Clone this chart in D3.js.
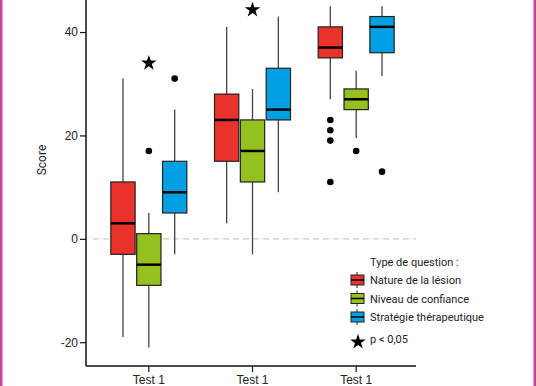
<!DOCTYPE html>
<html>
<head>
<meta charset="utf-8">
<script src="https://d3js.org/d3.v7.min.js"></script>
<style>
  body { margin: 0; background: #fff; }
  svg { display: block; font-family: Roboto, "DejaVu Sans", sans-serif; }
</style>
</head>
<body>
<div id="chart"></div>
<script>
// categories and series
var groups = ["Test 1", "Test 1 ", "Test 1  "];
var seriesNames = ["Nature de la lésion", "Niveau de confiance", "Stratégie thérapeutique"];
var colors = ["#e8322b", "#94c11f", "#00a0e2"];

// [whiskerLow, q1, median, q3, whiskerHigh] for each group, per series
var nature    = [[-19, -3, 3, 11, 31], [3, 15, 23, 28, 41], [27, 35, 37, 41, 45]];
var confiance = [[-21, -9, -5, 1, 5], [-3, 11, 17, 23, 29], [19.5, 25, 27, 29, 32.5]];
var strategie = [[-3, 5, 9, 15, 25], [9, 23, 25, 33, 43], [31.5, 36, 41, 43, 45]];

// outliers [group index, value]
var natureOut    = [[2, 23], [2, 21], [2, 19], [2, 11]];
var confianceOut = [[0, 17], [2, 17]];
var strategieOut = [[0, 31], [2, 13]];

// significance stars [group index, value] (placed over green series)
var stars = [[0, 34], [1, 44.3]];

var yTicks = [-20, 0, 20, 40];

var width = 536, height = 386;
var svg = d3.select("#chart").append("svg")
  .attr("width", width).attr("height", height);

// magenta frame edges
svg.append("rect").attr("x", 0).attr("y", 0).attr("width", 2.5).attr("height", height).attr("fill", "#c1469b");
svg.append("rect").attr("x", width - 2.5).attr("y", 0).attr("width", 2.5).attr("height", height).attr("fill", "#c1469b");

var mLeft = 86, mRight = 416, mTop = 0, mBottom = 366;

var y = d3.scaleLinear().domain([-24.6, 46.2]).range([mBottom, mTop]);
var x = d3.scaleBand().domain(groups).range([97, 408]).padding(0);
var xs = d3.scaleBand().domain([0, 1, 2]).range([-38, 38]).paddingInner(0.06);

// zero dashed line
svg.append("line")
  .attr("x1", 93).attr("x2", mRight)
  .attr("y1", y(0)).attr("y2", y(0))
  .attr("stroke", "#cccccc").attr("stroke-width", 1.2)
  .attr("stroke-dasharray", "6,4");

// axes
var yAxis = svg.append("g").attr("transform", "translate(" + mLeft + ",0)")
  .call(d3.axisLeft(y).tickValues(yTicks).tickSize(6).tickPadding(2).tickFormat(function(d) { return String(d); }));
yAxis.select(".domain").attr("d", "M0," + mTop + "V" + mBottom).attr("stroke", "#111").attr("stroke-width", 1.5);
yAxis.selectAll(".tick line").attr("stroke", "#111").attr("stroke-width", 1.2);
yAxis.selectAll(".tick text").attr("font-size", 12).attr("fill", "#222");

var xAxis = svg.append("g").attr("transform", "translate(0," + mBottom + ")")
  .call(d3.axisBottom(x).tickSize(6).tickPadding(3).tickFormat(function(d) { return d.trim(); }));
xAxis.select(".domain").attr("d", "M" + mLeft + ",0H" + mRight).attr("stroke", "#111").attr("stroke-width", 1.5);
xAxis.selectAll(".tick line").attr("stroke", "#111").attr("stroke-width", 1.2);
xAxis.selectAll(".tick text").attr("font-size", 12).attr("fill", "#222");

svg.append("text")
  .attr("transform", "translate(46," + 160 + ") rotate(-90)")
  .attr("text-anchor", "middle").attr("font-size", 12).attr("fill", "#222")
  .text("Score");

var allSeries = [nature, confiance, strategie];
var allOut = [natureOut, confianceOut, strategieOut];

function cx(g, s) { return x(groups[g]) + x.bandwidth() / 2 + xs(s) + xs.bandwidth() / 2; }

allSeries.forEach(function(series, s) {
  var bw = xs.bandwidth();
  var g = svg.append("g");
  series.forEach(function(d, gi) {
    var c = cx(gi, s);
    g.append("line").attr("x1", c).attr("x2", c).attr("y1", y(d[0])).attr("y2", y(d[4]))
      .attr("stroke", "#444").attr("stroke-width", 1.3);
    g.append("rect").attr("x", c - bw / 2).attr("width", bw)
      .attr("y", y(d[3])).attr("height", y(d[1]) - y(d[3]))
      .attr("fill", colors[s]).attr("stroke", "#222").attr("stroke-width", 1.2);
    g.append("line").attr("x1", c - bw / 2).attr("x2", c + bw / 2).attr("y1", y(d[2])).attr("y2", y(d[2]))
      .attr("stroke", "#000").attr("stroke-width", 2.5);
  });
  allOut[s].forEach(function(o) {
    g.append("circle").attr("cx", cx(o[0], s)).attr("cy", y(o[1])).attr("r", 3.3).attr("fill", "#000");
  });
});

var star = d3.symbol().type(d3.symbolStar).size(75);
stars.forEach(function(st) {
  svg.append("path").attr("d", star)
    .attr("transform", "translate(" + cx(st[0], 1) + "," + y(st[1]) + ")")
    .attr("fill", "#000");
});

// legend
var lg = svg.append("g").attr("font-size", 11).attr("fill", "#222");
lg.append("text").attr("x", 370).attr("y", 266).text("Type de question :");
seriesNames.forEach(function(name, i) {
  var cy = 280 + i * 18.5;
  lg.append("line").attr("x1", 357).attr("x2", 357).attr("y1", cy - 8).attr("y2", cy + 8)
    .attr("stroke", "#222").attr("stroke-width", 1);
  lg.append("rect").attr("x", 351).attr("y", cy - 5).attr("width", 13).attr("height", 10)
    .attr("fill", colors[i]).attr("stroke", "#222").attr("stroke-width", 1);
  lg.append("line").attr("x1", 351).attr("x2", 364).attr("y1", cy).attr("y2", cy)
    .attr("stroke", "#000").attr("stroke-width", 1.5);
  lg.append("text").attr("x", 370).attr("y", cy + 4).text(name);
});
lg.append("path").attr("d", star).attr("transform", "translate(358,342)").attr("fill", "#000");
lg.append("text").attr("x", 370).attr("y", 343).text("p < 0,05");
</script>
</body>
</html>
